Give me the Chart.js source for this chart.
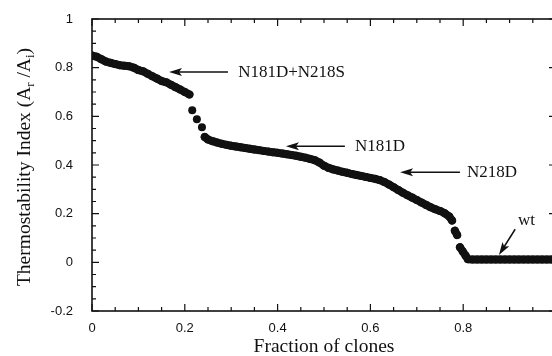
<!DOCTYPE html>
<html>
<head>
<meta charset="utf-8">
<script src="https://cdn.jsdelivr.net/npm/chart.js@4"></script>
<style>
  html, body { margin: 0; padding: 0; background: #fff; overflow: hidden; }
  #wrap { width: 552px; height: 356px; overflow: hidden; }
  canvas { display: block; }
</style>
</head>
<body>
<div id="wrap"><canvas id="chart" width="560" height="356"></canvas></div>
<script>
/* thermostability screen - clones sorted by index */

const fraction = [
  0, 0.01, 0.02, 0.03, 0.04, 0.05, 0.06, 0.07, 0.08, 0.09, 0.10,
  0.11, 0.12, 0.13, 0.14, 0.15, 0.16, 0.17, 0.18, 0.19, 0.20, 0.21,
  0.216, 0.226, 0.237,
  0.243, 0.25, 0.26, 0.27, 0.28, 0.29, 0.30, 0.31, 0.32, 0.33, 0.34,
  0.35, 0.36, 0.37, 0.38, 0.39, 0.40, 0.41, 0.42, 0.43, 0.44, 0.45,
  0.46, 0.47, 0.48, 0.49, 0.50, 0.51, 0.52, 0.53, 0.54, 0.55, 0.56,
  0.57, 0.58, 0.59, 0.60, 0.61, 0.62, 0.63, 0.64, 0.65, 0.66, 0.67,
  0.68, 0.69, 0.70, 0.71, 0.72, 0.73, 0.74, 0.75, 0.76, 0.77, 0.776,
  0.782, 0.787,
  0.793, 0.799, 0.805, 0.81,
  0.82, 0.83, 0.84, 0.85, 0.86, 0.87, 0.88, 0.89, 0.90, 0.91,
  0.92, 0.93, 0.94, 0.95, 0.96, 0.97, 0.98, 0.99, 1.00
];

const stability = [
  0.85, 0.845, 0.835, 0.825, 0.82, 0.815, 0.81, 0.808, 0.806, 0.80, 0.79,
  0.785, 0.775, 0.765, 0.755, 0.745, 0.74, 0.73, 0.72, 0.71, 0.70, 0.69,
  0.625, 0.588, 0.555,
  0.515, 0.505, 0.498, 0.492, 0.487, 0.483, 0.479, 0.476, 0.473, 0.47, 0.467,
  0.464, 0.461, 0.458, 0.455, 0.452, 0.45, 0.447, 0.444, 0.441, 0.438, 0.434,
  0.43, 0.425, 0.42, 0.41, 0.397, 0.388, 0.382, 0.377, 0.372, 0.368, 0.363,
  0.359, 0.355, 0.351, 0.347, 0.343, 0.338, 0.33, 0.32, 0.309, 0.297, 0.286,
  0.276, 0.266, 0.256, 0.246, 0.236, 0.226, 0.218, 0.211, 0.202, 0.188, 0.172,
  0.13, 0.112,
  0.062, 0.045, 0.028, 0.013,
  0.012, 0.012, 0.012, 0.012, 0.012, 0.012, 0.012, 0.012, 0.012, 0.012,
  0.012, 0.012, 0.012, 0.012, 0.012, 0.012, 0.012, 0.012, 0.012
];

const xTicks = [0, 0.2, 0.4, 0.6, 0.8];
const xTickLabels = ["0", "0.2", "0.4", "0.6", "0.8"];
const yTicks = [-0.2, 0, 0.2, 0.4, 0.6, 0.8, 1];
const yTickLabels = ["-0.2", "0", "0.2", "0.4", "0.6", "0.8", "1"];

// mutant labels: text + arrow (tail -> tip), in data units
const notes = [
  { text: "N181D+N218S", tx: 0.315, ty: 0.782, from: [0.293, 0.782], to: [0.166, 0.782] },
  { text: "N181D", tx: 0.567, ty: 0.477, from: [0.545, 0.477], to: [0.418, 0.477] },
  { text: "N218D", tx: 0.808, ty: 0.37, from: [0.793, 0.37], to: [0.664, 0.37] },
  { text: "wt", tx: 0.918, ty: 0.173, from: [0.912, 0.136], to: [0.877, 0.03] }
];

const serif = "'Liberation Serif', 'Times New Roman', serif";
const sans = "'Liberation Sans', Arial, sans-serif";

/* frame + inward ticks on all four sides */
const framePlugin = {
  id: "frame",
  afterDraw(chart) {
    const { ctx, chartArea: a, scales } = chart;
    const xs = scales.x, ys = scales.y;
    ctx.save();
    ctx.strokeStyle = "#111";
    ctx.lineWidth = 1.6;
    ctx.strokeRect(a.left, a.top, a.right - a.left, a.bottom - a.top);
    ctx.lineWidth = 1.2;
    ctx.beginPath();
    for (let i = 0; i <= 20; i++) {
      const v = i * 0.05;
      const len = i % 4 === 0 ? 7 : 4;
      const px = xs.getPixelForValue(v);
      ctx.moveTo(px, a.bottom); ctx.lineTo(px, a.bottom - len);
      ctx.moveTo(px, a.top); ctx.lineTo(px, a.top + len);
    }
    for (let i = 0; i <= 24; i++) {
      const v = -0.2 + i * 0.05;
      const len = i % 4 === 0 ? 7 : 4;
      const py = ys.getPixelForValue(v);
      ctx.moveTo(a.left, py); ctx.lineTo(a.left + len, py);
      ctx.moveTo(a.right, py); ctx.lineTo(a.right - len, py);
    }
    ctx.stroke();
    ctx.restore();
  }
};

/* y title with subscripts, and the arrow labels */
const textPlugin = {
  id: "texts",
  afterDraw(chart) {
    const { ctx, scales } = chart;
    const xs = scales.x, ys = scales.y;
    ctx.save();
    ctx.fillStyle = "#111";
    ctx.strokeStyle = "#111";

    // y axis title
    const big = "19.5px " + serif, small = "13px " + serif;
    const parts = [
      ["Thermostability Index (A", big, 0],
      ["r", small, 6],
      [" /A", big, 0],
      ["i", small, 6],
      [")", big, 0]
    ];
    let total = 0;
    parts.forEach((p) => { ctx.font = p[1]; total += ctx.measureText(p[0]).width; });
    ctx.translate(25, 167);
    ctx.rotate(-Math.PI / 2);
    ctx.textBaseline = "middle";
    let cx = -total / 2;
    parts.forEach((p) => {
      ctx.font = p[1];
      ctx.fillText(p[0], cx, p[2]);
      cx += ctx.measureText(p[0]).width;
    });
    ctx.setTransform(1, 0, 0, 1, 0, 0);

    // labels with arrows
    ctx.font = "17px " + serif;
    ctx.textBaseline = "middle";
    ctx.lineWidth = 1.5;
    notes.forEach((n) => {
      ctx.fillText(n.text, xs.getPixelForValue(n.tx), ys.getPixelForValue(n.ty));
      const x1 = xs.getPixelForValue(n.from[0]), y1 = ys.getPixelForValue(n.from[1]);
      const x2 = xs.getPixelForValue(n.to[0]), y2 = ys.getPixelForValue(n.to[1]);
      const ang = Math.atan2(y2 - y1, x2 - x1);
      ctx.beginPath();
      ctx.moveTo(x1, y1);
      ctx.lineTo(x2 - 8 * Math.cos(ang), y2 - 8 * Math.sin(ang));
      ctx.stroke();
      ctx.beginPath();
      ctx.moveTo(x2, y2);
      ctx.lineTo(x2 - 13 * Math.cos(ang) + 4 * Math.sin(ang), y2 - 13 * Math.sin(ang) - 4 * Math.cos(ang));
      ctx.lineTo(x2 - 10 * Math.cos(ang), y2 - 10 * Math.sin(ang));
      ctx.lineTo(x2 - 13 * Math.cos(ang) - 4 * Math.sin(ang), y2 - 13 * Math.sin(ang) + 4 * Math.cos(ang));
      ctx.closePath();
      ctx.fill();
    });
    ctx.restore();
  }
};

const points = fraction.map((x, i) => ({ x, y: stability[i] }));

// break the thick trace where the index jumps (isolated clones there)
const jump = (c) => Math.abs(c.p1.parsed.y - c.p0.parsed.y) > 0.025;

new Chart(document.getElementById("chart"), {
  type: "scatter",
  data: {
    datasets: [{
      data: points,
      pointRadius: 4,
      pointBorderWidth: 0,
      pointBackgroundColor: "#111",
      showLine: true,
      borderColor: "#111",
      borderWidth: 8,
      borderCapStyle: "round",
      borderJoinStyle: "round",
      segment: {
        borderColor: (c) => (jump(c) ? "rgba(0,0,0,0)" : "#111")
      }
    }]
  },
  options: {
    responsive: false,
    animation: false,
    layout: { padding: { top: 19, right: 4, left: 0, bottom: 0 } },
    plugins: { legend: { display: false }, tooltip: { enabled: false } },
    scales: {
      x: {
        type: "linear",
        min: 0,
        max: 1,
        grid: { display: false },
        border: { display: false },
        afterBuildTicks: (s) => { s.ticks = xTicks.map((v) => ({ value: v })); },
        afterFit: (s) => { s.height = 45; },
        ticks: {
          padding: 2,
          color: "#111",
          font: { family: sans, size: 13 },
          callback: (v) => xTickLabels[xTicks.indexOf(v)]
        },
        title: {
          display: true,
          text: "Fraction of clones",
          color: "#111",
          font: { family: serif, size: 19.5 },
          padding: { top: 0, bottom: -3 }
        }
      },
      y: {
        type: "linear",
        min: -0.2,
        max: 1,
        grid: { display: false },
        border: { display: false },
        afterBuildTicks: (s) => { s.ticks = yTicks.map((v) => ({ value: v })); },
        afterFit: (s) => { s.width = 92; },
        ticks: {
          padding: 11,
          color: "#111",
          font: { family: sans, size: 13 },
          callback: (v) => yTickLabels[yTicks.indexOf(v)]
        }
      }
    }
  },
  plugins: [framePlugin, textPlugin]
});
</script>
</body>
</html>
